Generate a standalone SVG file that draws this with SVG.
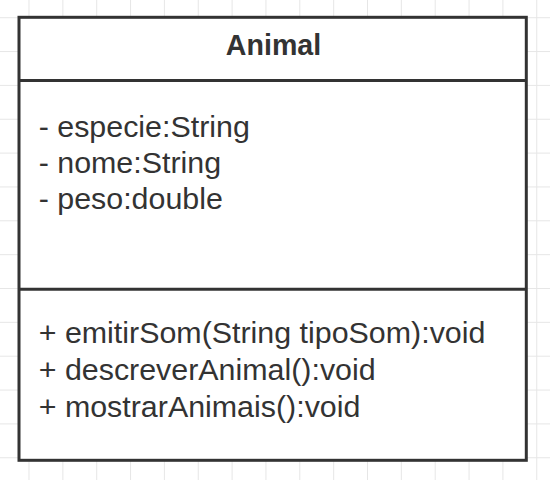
<svg xmlns="http://www.w3.org/2000/svg" width="550" height="480" viewBox="0 0 550 480">
  <defs>
    <pattern id="grid" x="28.5" y="17.2" width="33.85" height="33.85" patternUnits="userSpaceOnUse">
      <path d="M0.5 0 V33.85 M0 0.5 H33.85" fill="none" stroke="#e6e6e6" stroke-width="1"/>
    </pattern>
    <style>
      .box { fill: #ffffff; stroke: #333333; stroke-width: 3; }
      .div { stroke: #333333; stroke-width: 3; }
      .title { font-family: "Liberation Sans", Arial, sans-serif; font-weight: bold; font-size: 28.6px; fill: #333333; text-anchor: middle; }
      .member { font-family: "Liberation Sans", Arial, sans-serif; font-size: 30.4px; fill: #333333; }
    </style>
  </defs>
  <rect x="0" y="0" width="550" height="480" fill="#ffffff"/>
  <rect x="0" y="0" width="550" height="480" fill="url(#grid)"/>
  <g id="connectors"></g>
  <g id="Animal">
    <rect class="box" x="19" y="17.3" width="507.3" height="443"/>
    <line class="div" x1="19" y1="80.5" x2="526.3" y2="80.5"/>
    <line class="div" x1="19" y1="289.3" x2="526.3" y2="289.3"/>
    <text class="title" x="273.5" y="55">Animal</text>
    <text class="member" x="38.7" y="137">- especie:String</text>
    <text class="member" x="38.7" y="173">- nome:String</text>
    <text class="member" x="38.7" y="209">- peso:double</text>
    <text class="member" x="38.7" y="343">+ emitirSom(String tipoSom):void</text>
    <text class="member" x="38.7" y="380">+ descreverAnimal():void</text>
    <text class="member" x="38.7" y="417">+ mostrarAnimais():void</text>
  </g>
</svg>
